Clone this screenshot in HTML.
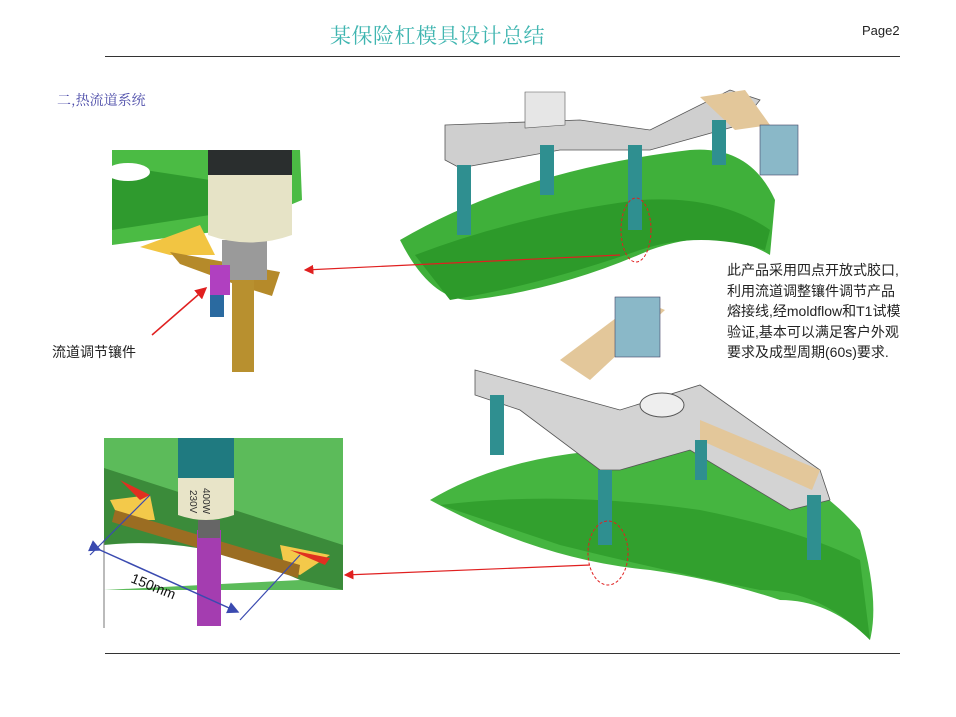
<!DOCTYPE html>
<html><head><meta charset="utf-8"><style>
html,body{margin:0;padding:0;background:#fff;}
body{width:956px;height:717px;position:relative;overflow:hidden;font-family:"Liberation Sans","Noto Sans CJK SC",sans-serif;}
.t{position:absolute;white-space:nowrap;}
</style></head><body>
<div class="t" style="left:330px;top:20px;font-size:21px;color:#3fb5b0;font-family:'Noto Serif CJK SC','Noto Sans CJK SC',serif;letter-spacing:0.5px">某保险杠模具设计总结</div>
<div class="t" style="left:862px;top:23px;font-size:13px;color:#222">Page2</div>
<div style="position:absolute;left:105px;top:56px;width:795px;height:1px;background:#333"></div>
<div style="position:absolute;left:105px;top:653px;width:795px;height:1px;background:#333"></div>
<div class="t" style="left:57px;top:90px;font-size:14px;color:#4a4aa8;font-family:'Noto Serif CJK SC','Noto Sans CJK SC',serif">二,热流道系统</div>
<div class="t" style="left:52px;top:342px;font-size:14px;color:#222">流道调节镶件</div>
<div class="t" style="left:727px;top:260px;font-size:14px;line-height:20.5px;color:#222">此产品采用四点开放式胶口,<br>利用流道调整镶件调节产品<br>熔接线,经moldflow和T1试模<br>验证,基本可以满足客户外观<br>要求及成型周期(60s)要求.</div>

<svg width="956" height="717" style="position:absolute;left:0;top:0">
<defs><marker id="ar" markerWidth="8" markerHeight="8" refX="7" refY="4" orient="auto"><path d="M0,0 L8,4 L0,8z" fill="#e02020"/></marker>
<marker id="ab" markerWidth="8" markerHeight="8" refX="7" refY="4" orient="auto"><path d="M0,0 L8,4 L0,8z" fill="#3a4ab0"/></marker></defs>
<!-- top-left image -->
<g>
<path d="M112,150 L300,150 L302,200 L230,230 L150,240 L112,245Z" fill="#4bbb44"/>
<path d="M112,165 L210,180 L210,215 L112,230Z" fill="#2f9a2e"/>
<ellipse cx="128" cy="172" rx="22" ry="9" fill="#fff"/>
<path d="M140,247 L200,225 L215,255 L170,255Z" fill="#f2c542"/>
<path d="M170,252 L280,272 L272,296 L240,286 L180,264Z" fill="#b58a2a"/>
<rect x="232" y="275" width="22" height="97" fill="#b8902f"/>
<rect x="222" y="240" width="45" height="40" fill="#9a9a9a"/>
<path d="M208,150 L292,150 L292,235 Q250,250 208,235Z" fill="#e6e3c6"/>
<rect x="208" y="150" width="84" height="25" fill="#2a2e2e"/>
<rect x="210" y="265" width="20" height="30" fill="#b040c0"/>
<rect x="210" y="295" width="14" height="22" fill="#2a6aa0"/>
<line x1="152" y1="335" x2="206" y2="288" stroke="#e02020" stroke-width="1.5" marker-end="url(#ar)"/>
</g>
<!-- bottom-left image -->
<g>
<rect x="104" y="438" width="239" height="152" fill="#5cbb5a"/>
<path d="M104,468 L343,545 L343,590 L300,580 Q180,535 104,545Z" fill="#3b8b3a"/>
<path d="M104,545 Q200,535 300,580 L104,590Z" fill="#fff"/>
<path d="M110,500 L150,495 L155,520 L120,520Z" fill="#f3c94a"/>
<path d="M120,480 L150,495 L140,500Z" fill="#e03020"/>
<path d="M280,545 L330,555 L300,575 L285,570Z" fill="#f3c94a"/>
<path d="M290,550 L330,558 L325,565Z" fill="#e03020"/>
<path d="M115,510 L300,565 L298,578 L112,522Z" fill="#9b6d22"/>
<rect x="197" y="530" width="24" height="96" fill="#a43db0"/>
<rect x="198" y="520" width="22" height="18" fill="#666"/>
<path d="M178,438 L234,438 L234,515 Q206,525 178,515Z" fill="#e8e4c8"/>
<rect x="178" y="438" width="56" height="40" fill="#1f7a80"/>
<text x="0" y="0" font-size="10" font-family="Liberation Sans" fill="#333" transform="translate(190,490) rotate(90)">230V</text>
<text x="0" y="0" font-size="10" font-family="Liberation Sans" fill="#333" transform="translate(203,488) rotate(90)">400W</text>
<line x1="104" y1="540" x2="104" y2="628" stroke="#777" stroke-width="1"/>
<line x1="90" y1="555" x2="150" y2="495" stroke="#3a4ab0" stroke-width="1.2"/>
<line x1="240" y1="620" x2="300" y2="555" stroke="#3a4ab0" stroke-width="1.2"/>
<line x1="100" y1="550" x2="238" y2="612" stroke="#3a4ab0" stroke-width="1.5" marker-end="url(#ab)" marker-start="url(#ab)"/>
<text x="0" y="0" font-size="14" font-family="Liberation Sans" fill="#111" transform="translate(130,582) rotate(22)">150mm</text>
</g>
<!-- top right bumper -->
<g>
<path d="M400,240 Q520,170 690,150 Q750,145 775,200 L770,255 Q720,225 650,250 Q560,290 470,300 Q430,300 400,240Z" fill="#3fb03a"/>
<path d="M415,255 Q520,215 640,200 Q720,195 770,230 L765,250 Q700,230 640,250 Q540,285 450,300Z" fill="#2d9a2a"/>
<path d="M445,125 L580,120 L650,130 L730,90 L760,100 L740,125 L650,150 L560,150 L460,168 L445,160Z" fill="#cfcfcf" stroke="#555" stroke-width="0.8"/>
<path d="M525,92 L565,92 L565,125 L525,128Z" fill="#e6e6e6" stroke="#555" stroke-width="0.6"/>
<path d="M700,97 L745,90 L770,125 L735,130Z" fill="#e3c79a"/>
<rect x="760" y="125" width="38" height="50" fill="#8ab8c8" stroke="#446" stroke-width="0.6"/>
<rect x="457" y="165" width="14" height="70" fill="#2f8f90"/>
<rect x="540" y="145" width="14" height="50" fill="#2f8f90"/>
<rect x="628" y="145" width="14" height="85" fill="#2f8f90"/>
<rect x="712" y="120" width="14" height="45" fill="#2f8f90"/>
<ellipse cx="636" cy="230" rx="15" ry="32" fill="none" stroke="#e02020" stroke-dasharray="3,2"/>
<line x1="620" y1="255" x2="305" y2="270" stroke="#e02020" stroke-width="1.2" marker-end="url(#ar)"/>
</g>
<!-- bottom right bumper -->
<g>
<path d="M430,500 Q530,440 700,450 Q800,460 860,530 Q880,600 870,640 Q830,600 780,600 Q720,580 650,570 Q540,560 430,500Z" fill="#45b540"/>
<path d="M440,505 Q560,490 700,510 Q800,530 860,560 L870,640 Q820,590 760,590 Q660,570 560,545Z" fill="#32a02e"/>
<path d="M475,370 L620,410 L700,385 L820,470 L830,500 L790,510 L690,450 L620,470 L600,470 L520,410 L475,395Z" fill="#d3d3d3" stroke="#555" stroke-width="0.8"/>
<path d="M560,360 L640,300 L665,310 L590,380Z" fill="#e3c79a"/>
<path d="M700,420 L820,470 L812,490 L700,440Z" fill="#e3c79a"/>
<rect x="615" y="297" width="45" height="60" fill="#8ab8c8" stroke="#446" stroke-width="0.6"/>
<ellipse cx="662" cy="405" rx="22" ry="12" fill="#eee" stroke="#555"/>
<rect x="490" y="395" width="14" height="60" fill="#2f8f90"/>
<rect x="598" y="470" width="14" height="75" fill="#2f8f90"/>
<rect x="807" y="495" width="14" height="65" fill="#2f8f90"/>
<rect x="695" y="440" width="12" height="40" fill="#2f8f90"/>
<ellipse cx="608" cy="553" rx="20" ry="32" fill="none" stroke="#e02020" stroke-dasharray="3,2"/>
<line x1="590" y1="565" x2="345" y2="575" stroke="#e02020" stroke-width="1.2" marker-end="url(#ar)"/>
</g>
</svg>
</body></html>
